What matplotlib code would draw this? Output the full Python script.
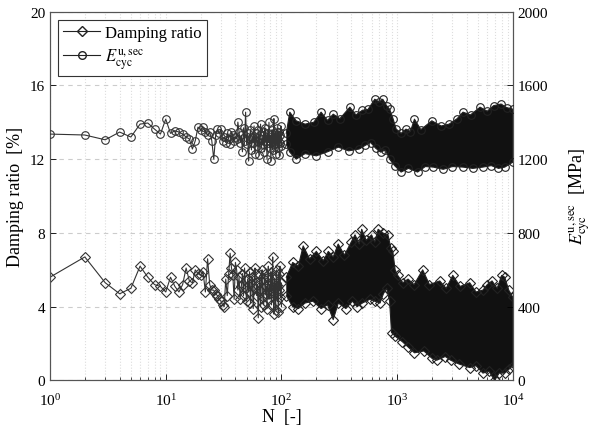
import numpy as np
import matplotlib
matplotlib.use("Agg")
import matplotlib.pyplot as plt

plt.rcParams['font.family'] = ['Liberation Serif', 'DejaVu Serif']
plt.rcParams['mathtext.fontset'] = 'stix'

# ---- sparse part: one value per cycle, N = 1..100 ----
n_sparse = list(range(1, 101))
damp_sparse = [5.6, 6.7, 5.3, 4.7, 5.0, 6.2, 5.6, 5.2, 5.1, 4.8,
               5.6, 5.1, 4.8, 5.2, 6.1, 5.4, 5.3, 6.0, 5.8, 5.7,
               5.9, 4.8, 6.6, 5.2, 4.9, 4.9, 4.7, 4.6, 4.4, 4.3,
               4.1, 4.0, 5.5, 4.6, 5.8, 6.9, 6.1, 5.7, 4.4, 6.4,
               6.0, 4.9, 5.6, 4.4, 5.1, 5.8, 4.6, 6.1, 5.0, 4.3,
               5.5, 4.8, 5.9, 4.2, 5.3, 5.6, 3.9, 5.0, 6.1, 5.8,
               4.6, 5.2, 3.4, 4.9, 5.7, 4.0, 5.4, 6.0, 4.5, 4.1,
               5.5, 5.8, 4.7, 5.1, 3.9, 5.6, 6.2, 4.4, 5.2, 4.8,
               5.9, 4.1, 5.3, 6.7, 4.6, 3.6, 5.5, 5.0, 3.8, 5.7,
               6.0, 4.3, 5.1, 3.7, 5.8, 4.9, 6.2, 4.5, 5.3, 4.0]
mod_sparse = [1336, 1331, 1305, 1347, 1320, 1390, 1396, 1363, 1336, 1417,
              1340, 1354, 1347, 1336, 1320, 1309, 1255, 1300, 1374, 1360,
              1374, 1347, 1330, 1347, 1300, 1200, 1330, 1363, 1340, 1363,
              1300, 1320, 1290, 1340, 1310, 1280, 1350, 1330, 1300, 1320,
              1310, 1401, 1350, 1290, 1330, 1240, 1370, 1300, 1455, 1280,
              1340, 1190, 1310, 1360, 1250, 1320, 1290, 1380, 1230, 1340,
              1300, 1270, 1360, 1220, 1330, 1390, 1260, 1310, 1280, 1350,
              1240, 1370, 1300, 1320, 1200, 1340, 1290, 1400, 1260, 1330,
              1190, 1310, 1360, 1250, 1300, 1420, 1280, 1340, 1230, 1320,
              1290, 1370, 1260, 1310, 1350, 1220, 1330, 1290, 1380, 1270]

# ---- dense part (N > 100): upper / lower edges of the point cloud ----
damp_up_n = [110, 125, 140, 154, 175, 200, 230, 254, 280, 309, 350, 400, 432, 470,
             493, 540, 600, 640, 684, 750, 832, 880, 916, 960, 1010, 1120, 1240,
             1400, 1660, 1900, 2330, 2650, 3020, 3500, 4230, 4800, 5500, 6000,
             6600, 7300, 8000, 8500, 9200, 10000]
damp_up = [5.6, 6.4, 6.2, 7.3, 6.6, 7.0, 6.5, 7.0, 6.7, 7.4, 6.8, 7.5, 7.9, 7.4,
           8.2, 7.6, 7.9, 7.5, 8.2, 8.0, 7.9, 7.2, 7.0, 6.0, 5.7, 5.3, 5.5,
           5.2, 6.0, 5.2, 5.4, 5.0, 5.7, 5.1, 5.3, 4.8, 4.9, 5.2,
           5.4, 5.0, 5.7, 5.6, 4.9, 4.5]
damp_lo_n = [110, 125, 140, 160, 187, 220, 250, 280, 310, 360, 410, 450, 500, 580,
             640, 710, 760, 810, 860, 893, 960, 1110, 1250, 1410, 1700, 2000,
             2200, 2600, 2900, 3400, 4230, 4800, 5500, 6200, 6950, 7600, 8500,
             9200, 10000]
damp_lo = [4.6, 4.0, 3.9, 4.2, 4.3, 3.9, 4.1, 3.3, 4.2, 3.9, 4.3, 4.0, 4.2, 4.4,
           4.3, 4.2, 4.7, 5.0, 4.3, 2.6, 2.4, 2.1, 1.8, 1.5, 1.6, 1.2,
           1.1, 1.3, 1.1, 0.9, 0.7, 0.8, 0.4, 0.5, 0.0, 0.4, 0.4,
           0.6, 0.8]

mod_up_n = [110, 118, 134, 160, 190, 220, 250, 280, 320, 390, 440, 500, 560, 640,
            700, 750, 810, 860, 920, 980, 1080, 1190, 1300, 1410, 1600, 1990,
            2400, 2810, 3300, 3700, 4300, 5200, 6000, 6800, 7900, 8800, 10000]
mod_up = [1340, 1455, 1408, 1390, 1400, 1455, 1410, 1444, 1420, 1482, 1440, 1465,
          1470, 1525, 1510, 1525, 1490, 1471, 1420, 1363, 1340, 1363, 1350, 1417,
          1360, 1408, 1380, 1390, 1420, 1455, 1440, 1482, 1460, 1490, 1499, 1480,
          1471]
mod_lo_n = [110, 118, 134, 160, 200, 250, 310, 380, 470, 530, 590, 650, 720, 790,
            860, 950, 1080, 1250, 1500, 1750, 2050, 2500, 3000, 3700, 4500, 5500,
            6500, 7500, 8500, 10000]
mod_lo = [1280, 1238, 1200, 1230, 1218, 1240, 1265, 1245, 1255, 1275, 1290, 1260,
          1238, 1250, 1200, 1165, 1130, 1150, 1130, 1160, 1157, 1145, 1160, 1157,
          1150, 1157, 1165, 1150, 1157, 1184]

DIAMOND = dict(marker='D', ms=4.6)
CIRCLE = dict(marker='o', ms=5.5)


def draw_band(ax, up_n, up, lo_n, lo, mk):
    xs = list(up_n) + list(lo_n)[::-1]
    ys = list(up) + list(lo)[::-1]
    ax.fill(xs, ys, color='#111111', lw=0, zorder=2)
    ax.plot(up_n, up, color='#222222', lw=0.8, mfc='none', mew=0.8, zorder=3, **mk)
    ax.plot(lo_n, lo, color='#222222', lw=0.8, mfc='none', mew=0.8, zorder=3, **mk)


fig = plt.figure(figsize=(5.93, 4.35), dpi=100)
ax = fig.add_axes([0.0843, 0.123, 0.7807, 0.848])
ax2 = ax.twinx()

ax.plot(n_sparse, damp_sparse, color='#333333', lw=0.8, mfc='none', mew=0.8,
        zorder=3, **DIAMOND)
draw_band(ax, damp_up_n, damp_up, damp_lo_n, damp_lo, DIAMOND)
ax2.plot(n_sparse, mod_sparse, color='#333333', lw=0.8, mfc='none', mew=0.8,
         zorder=3, **CIRCLE)
draw_band(ax2, mod_up_n, mod_up, mod_lo_n, mod_lo, CIRCLE)

ax.set_xscale('log')
ax.set_xlim(1, 1e4)
ax.set_ylim(0, 20)
ax.set_yticks([0, 4, 8, 12, 16, 20])
ax2.set_ylim(0, 2000)
ax2.set_yticks([0, 400, 800, 1200, 1600, 2000])

ax.grid(True, which='major', axis='y', color='#cccccc', ls=(0, (4, 4)), lw=0.8)
ax.grid(True, which='both', axis='x', color='#dddddd', ls=':', lw=0.8)
ax.set_axisbelow(True)

for a in (ax, ax2):
    a.tick_params(direction='in', labelsize=11, length=4, width=0.6)
    a.tick_params(which='minor', direction='in', length=2, width=0.5)
    for s in a.spines.values():
        s.set_color('#555555')
        s.set_linewidth(0.8)
ax.tick_params(axis='x', which='major', pad=8)

ax.set_xlabel('N  [-]', fontsize=13, labelpad=0)
ax.set_ylabel('Damping ratio  [%]', fontsize=13, labelpad=4)
ax2.set_ylabel(r'$E^{\rm u,sec}_{\rm cyc}$  [MPa]', fontsize=13, labelpad=14)

h1 = plt.Line2D([], [], color='#222222', lw=0.8, mfc='none', **DIAMOND)
h2 = plt.Line2D([], [], color='#222222', lw=0.8, mfc='none', **CIRCLE)
leg = ax.legend([h1, h2], ['Damping ratio', r'$E^{\rm u,sec}_{\rm cyc}$'],
                loc='upper left', fontsize=12, fancybox=False, framealpha=1,
                edgecolor='#333333', borderpad=0.3, handlelength=2.2,
                handletextpad=0.3, labelspacing=0.3, borderaxespad=0.5)
leg.get_frame().set_linewidth(0.8)
leg.set_zorder(10)

fig.savefig('out.png', dpi=100)
